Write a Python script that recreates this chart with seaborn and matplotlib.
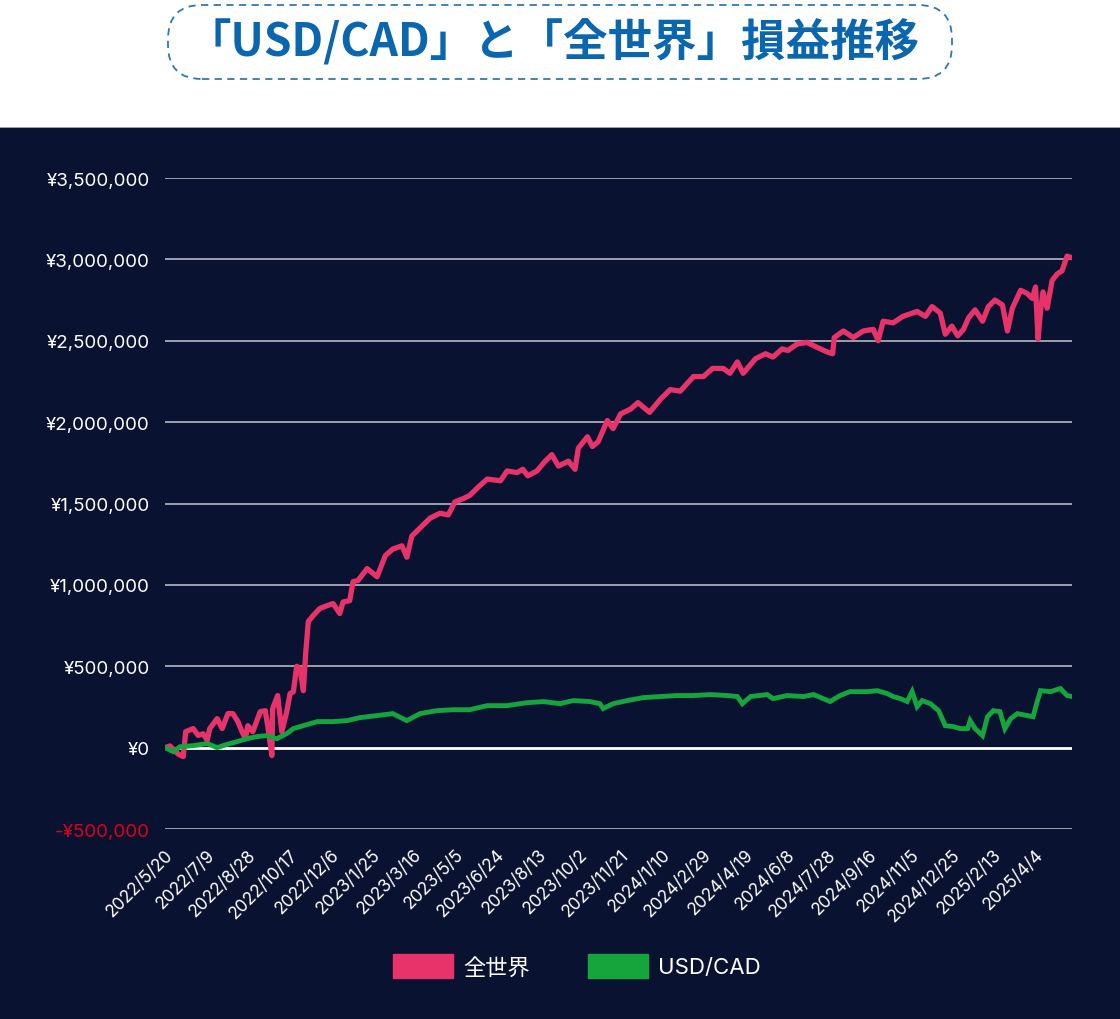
import numpy as np
import pandas as pd
import matplotlib
matplotlib.use("Agg")
import matplotlib.pyplot as plt
from matplotlib.patches import FancyBboxPatch, Rectangle, Patch
from matplotlib.transforms import IdentityTransform
import seaborn as sns

# ---------------- data ----------------
start_date = "2022-05-20"
end_day = 1095

world_days = [0, 6, 16, 22, 25, 34, 40, 46, 51, 54, 63, 69, 76, 82, 88, 93, 97, 100, 106, 115,
              121, 124, 129, 130, 136, 141, 147, 151, 155, 159, 163, 167, 170, 173, 179, 187, 196,
              203, 211, 215, 223, 227, 233, 244, 256, 266, 275, 286, 292, 298, 310, 320, 332, 342,
              350, 360, 368, 378, 389, 405, 413, 425, 432, 438, 449, 459, 467, 475, 487, 495, 499,
              510, 516, 523, 534, 541, 550, 562, 571, 585, 598, 610, 622, 638, 650, 661, 674, 682,
              691, 698, 713, 725, 734, 745, 752, 763, 775, 787, 800, 806, 808, 819, 831, 843, 855,
              861, 867, 879, 891, 908, 918, 926, 936, 942, 950, 957, 964, 970, 978, 987, 994, 1002,
              1011, 1017, 1023, 1033, 1041, 1047, 1051, 1054, 1057, 1060, 1065, 1071, 1077, 1083,
              1089, 1095]
world_values = [0, 10, -40, -55, 98, 117, 75, 85, 45, 117, 178, 117, 209, 209, 160, 98, 55, 135, 98, 221,
                227, 135, -49, 240, 320, 98, 221, 332, 344, 500, 485, 350, 590, 775, 812, 855, 873,
                885, 824, 895, 903, 1020, 1027, 1100, 1050, 1180, 1220, 1240, 1170, 1300, 1360, 1410, 1440, 1430,
                1510, 1530, 1550, 1600, 1650, 1640, 1700, 1690, 1710, 1670, 1700, 1760, 1800, 1730, 1760, 1710, 1840,
                1910, 1850, 1880, 2010, 1960, 2050, 2080, 2120, 2060, 2140, 2200, 2190, 2280, 2280, 2330, 2330, 2300,
                2370, 2300, 2390, 2420, 2400, 2450, 2440, 2480, 2490, 2460, 2430, 2420, 2520, 2560, 2520, 2560, 2570,
                2500, 2620, 2610, 2650, 2680, 2650, 2710, 2670, 2540, 2590, 2530, 2570, 2640, 2690, 2620, 2710, 2750,
                2720, 2560, 2700, 2810, 2790, 2760, 2830, 2510, 2680, 2800, 2700, 2870, 2910, 2930,
                3020, 3010]

fx_days = [0, 10, 18, 34, 51, 63, 75, 87, 99, 111, 123, 135, 147, 155, 167, 184, 203, 220, 235, 256,
           275, 292, 308, 328, 348, 368, 389, 413, 437, 457, 477, 493, 513, 525, 529, 541, 558, 577,
           598, 618, 638, 658, 679, 691, 697, 707, 727, 734, 751, 771, 783, 803, 815, 827, 848, 860,
           872, 879, 888, 896, 902, 908, 914, 924, 934, 942, 952, 960, 969, 972, 978, 987, 993, 1000,
           1008, 1014, 1021, 1029, 1041, 1048, 1053, 1057, 1069, 1081, 1089, 1095]
fx_values = [0, -25, 5, 12, 25, 0, 20, 37, 55, 68, 74, 55, 86, 117, 135, 160, 160, 166, 184, 197,
             209, 166, 209, 227, 233, 233, 258, 258, 276, 283, 270, 289, 283, 270, 240, 270, 289, 307,
             314, 320, 320, 326, 320, 314, 270, 314, 326, 301, 320, 314, 326, 283, 320, 344, 344, 350,
             332, 314, 301, 283, 344, 252, 289, 270, 227, 135, 129, 117, 117, 166, 117, 74, 190, 227,
             221, 117, 178, 209, 197, 190, 283, 350, 344, 363, 320, 314]

series_names = ["全世界", "USD/CAD"]
series_colors = ["#e8336a", "#16a53d"]

x_tick_labels = ["2022/5/20", "2022/7/9", "2022/8/28", "2022/10/17", "2022/12/6", "2023/1/25",
                 "2023/3/16", "2023/5/5", "2023/6/24", "2023/8/13", "2023/10/2", "2023/11/21",
                 "2024/1/10", "2024/2/29", "2024/4/19", "2024/6/8", "2024/7/28", "2024/9/16",
                 "2024/11/5", "2024/12/25", "2025/2/13", "2025/4/4"]
y_ticks = [-500000, 0, 500000, 1000000, 1500000, 2000000, 2500000, 3000000, 3500000]
y_tick_labels = ["-¥500,000", "¥0", "¥500,000", "¥1,000,000", "¥1,500,000", "¥2,000,000",
                 "¥2,500,000", "¥3,000,000", "¥3,500,000"]
title = "「USD/CAD」と「全世界」損益推移"

# ---------------- build frames ----------------
t0 = pd.Timestamp(start_date)
df_world = pd.DataFrame({"date": t0 + pd.to_timedelta(world_days, unit="D"),
                         "value": np.array(world_values) * 1000, "series": series_names[0]})
df_fx = pd.DataFrame({"date": t0 + pd.to_timedelta(fx_days, unit="D"),
                      "value": np.array(fx_values) * 1000, "series": series_names[1]})

# ---------------- style ----------------
sns.set_theme(style="white")
plt.rcParams["font.family"] = ["Inter", "Noto Sans CJK JP", "DejaVu Sans"]

DARK = "#0a1231"
W, H = 1120, 1020
fig = plt.figure(figsize=(W / 100, H / 100), dpi=100, facecolor="white")

# dark panel
fig.add_artist(Rectangle((0, 0), 1, 1 - 128 / H, transform=fig.transFigure,
                         facecolor=DARK, edgecolor="none", zorder=0))
fig.add_artist(Rectangle((0, 1 - 129 / H), 1, 1.5 / H, transform=fig.transFigure,
                         facecolor="#9aa0ad", edgecolor="none", zorder=0))

# title box
box = FancyBboxPatch((168, H - 80), 784, 74, boxstyle="round,pad=0,rounding_size=34",
                     transform=IdentityTransform(), facecolor="white", edgecolor="#2f78b8",
                     linewidth=1.3, linestyle=(0, (4, 3)), zorder=1)
fig.add_artist(box)
fig.text(553 / W, 1 - 43 / H, title, ha="center", va="center", fontsize=32,
         fontweight="bold", color="#0b66b0", family=["Noto Sans CJK JP", "DejaVu Sans"])

ax = fig.add_axes([165 / W, 1 - 830 / H, (1072 - 165) / W, (830 - 179) / H])
ax.set_facecolor(DARK)
ax.patch.set_alpha(0)

sns.lineplot(data=df_world, x="date", y="value", color=series_colors[0], linewidth=3.8,
             estimator=None, ax=ax, zorder=3, solid_joinstyle="round", solid_capstyle="round")
sns.lineplot(data=df_fx, x="date", y="value", color=series_colors[1], linewidth=3.5,
             estimator=None, ax=ax, zorder=4, solid_joinstyle="miter")

# axes
ax.set_xlim(t0, t0 + pd.Timedelta(days=end_day))
ax.set_ylim(-500000, 3500000)
for s in ax.spines.values():
    s.set_visible(False)

for v in y_ticks:
    if v == 0:
        ax.axhline(v, color="white", linewidth=2.0, zorder=2)
    else:
        ax.axhline(v, color="#c3c6d0", linewidth=1.1, zorder=1)

ax.set_yticks(y_ticks)
ax.set_yticklabels(y_tick_labels)
ax.tick_params(axis="y", length=0, pad=11, labelsize=13.5, labelcolor="white")
for lab, v in zip(ax.get_yticklabels(), y_ticks):
    if v < 0:
        lab.set_color("#e0001a")

xt = [pd.Timestamp(s.replace("/", "-")) for s in x_tick_labels]
ax.set_xticks(xt)
ax.set_xticklabels(x_tick_labels, rotation=45, ha="right", va="top", rotation_mode="anchor")
ax.tick_params(axis="x", length=0, pad=12, labelsize=12.5, labelcolor="white")
ax.set_xlabel("")
ax.set_ylabel("")
ax.grid(False)

handles = [Patch(facecolor=c, edgecolor=c) for c in series_colors]
leg = fig.legend(handles, series_names, loc="center", bbox_to_anchor=(577 / W, 1 - 967 / H),
                 ncol=2, frameon=False, fontsize=16, handlelength=2.7, handleheight=1.3,
                 columnspacing=2.6, handletextpad=0.45)
for t in leg.get_texts():
    t.set_color("white")

fig.savefig("out.png", dpi=100, facecolor="white")
